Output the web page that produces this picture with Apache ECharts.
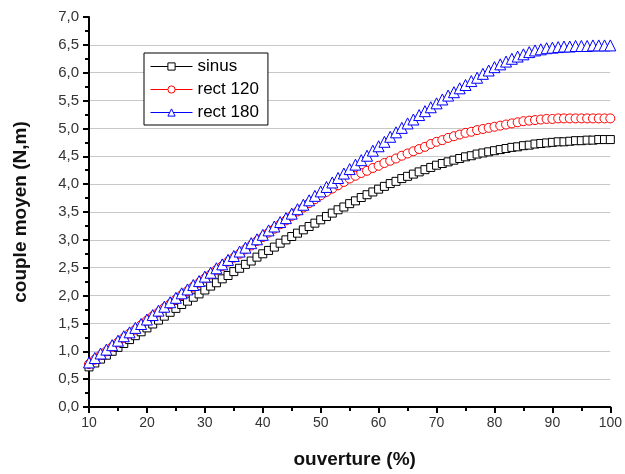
<!DOCTYPE html>
<html>
<head>
<meta charset="utf-8">
<script src="https://cdn.jsdelivr.net/npm/echarts@6/dist/echarts.min.js"></script>
<style>
  html, body { margin: 0; padding: 0; background: #fff; }
  #chart { width: 625px; height: 474px; }
</style>
</head>
<body>
<div id="chart"></div>
<script>
// Opening (%) from 10 to 100 in steps of 1
const ouverture = [
  10, 11, 12, 13, 14, 15, 16, 17, 18, 19,
  20, 21, 22, 23, 24, 25, 26, 27, 28, 29,
  30, 31, 32, 33, 34, 35, 36, 37, 38, 39,
  40, 41, 42, 43, 44, 45, 46, 47, 48, 49,
  50, 51, 52, 53, 54, 55, 56, 57, 58, 59,
  60, 61, 62, 63, 64, 65, 66, 67, 68, 69,
  70, 71, 72, 73, 74, 75, 76, 77, 78, 79,
  80, 81, 82, 83, 84, 85, 86, 87, 88, 89,
  90, 91, 92, 93, 94, 95, 96, 97, 98, 99,
  100
];

// Mean torque (N.m), sinusoidal supply
const sinus = [
  0.72, 0.79, 0.86, 0.93, 1.00, 1.07, 1.14, 1.21, 1.28, 1.35,
  1.42, 1.49, 1.56, 1.63, 1.70, 1.77, 1.84, 1.90, 1.97, 2.03,
  2.10, 2.17, 2.23, 2.30, 2.36, 2.43, 2.49, 2.56, 2.62, 2.69,
  2.75, 2.81, 2.87, 2.94, 3.00, 3.06, 3.12, 3.18, 3.24, 3.30,
  3.36, 3.42, 3.48, 3.54, 3.59, 3.65, 3.70, 3.76, 3.81, 3.86,
  3.91, 3.96, 4.01, 4.05, 4.10, 4.14, 4.18, 4.22, 4.26, 4.30,
  4.34, 4.37, 4.40, 4.43, 4.46, 4.49, 4.51, 4.54, 4.56, 4.58,
  4.60, 4.62, 4.64, 4.66, 4.67, 4.69, 4.70, 4.72, 4.73, 4.74,
  4.75, 4.76, 4.76, 4.77, 4.78, 4.78, 4.79, 4.79, 4.80, 4.80,
  4.80
];

// Mean torque (N.m), 120° rectangular supply
const rect120 = [
  0.77, 0.85, 0.93, 1.00, 1.08, 1.16, 1.24, 1.32, 1.39, 1.47,
  1.55, 1.63, 1.70, 1.78, 1.85, 1.93, 2.01, 2.08, 2.16, 2.23,
  2.31, 2.38, 2.46, 2.53, 2.61, 2.68, 2.75, 2.83, 2.90, 2.98,
  3.05, 3.13, 3.20, 3.28, 3.35, 3.43, 3.51, 3.58, 3.66, 3.73,
  3.80, 3.86, 3.92, 3.98, 4.04, 4.10, 4.15, 4.20, 4.24, 4.29,
  4.33, 4.38, 4.42, 4.46, 4.51, 4.55, 4.59, 4.63, 4.67, 4.72,
  4.76, 4.79, 4.83, 4.86, 4.89, 4.92, 4.94, 4.97, 4.99, 5.01,
  5.03, 5.05, 5.07, 5.09, 5.11, 5.13, 5.14, 5.15, 5.16, 5.17,
  5.17, 5.18, 5.18, 5.18, 5.18, 5.18, 5.18, 5.18, 5.18, 5.18,
  5.18
];

// Mean torque (N.m), 180° rectangular supply
const rect180 = [
  0.80, 0.88, 0.96, 1.03, 1.11, 1.19, 1.27, 1.34, 1.42, 1.49,
  1.57, 1.65, 1.73, 1.80, 1.88, 1.96, 2.04, 2.11, 2.19, 2.26,
  2.34, 2.41, 2.49, 2.56, 2.64, 2.71, 2.79, 2.86, 2.94, 3.01,
  3.09, 3.17, 3.24, 3.32, 3.39, 3.47, 3.55, 3.63, 3.71, 3.79,
  3.87, 3.95, 4.03, 4.11, 4.19, 4.27, 4.35, 4.43, 4.51, 4.60,
  4.68, 4.76, 4.85, 4.93, 5.01, 5.09, 5.16, 5.24, 5.31, 5.38,
  5.45, 5.52, 5.59, 5.65, 5.72, 5.78, 5.85, 5.91, 5.98, 6.04,
  6.10, 6.15, 6.20, 6.25, 6.29, 6.33, 6.37, 6.40, 6.42, 6.44,
  6.45, 6.46, 6.47, 6.47, 6.48, 6.48, 6.48, 6.49, 6.49, 6.49,
  6.49
];

const seriesNames = ['sinus', 'rect 120', 'rect 180'];
const seriesColors = ['#000000', '#ff0000', '#0000ff'];

function pairs(xs, ys) {
  return xs.map((x, i) => [x, ys[i]]);
}

const fontFamily = '"Liberation Sans", Arial, sans-serif';
const commaFmt = v => v.toFixed(1).replace('.', ',');

const chart = echarts.init(document.getElementById('chart'), null, { renderer: 'canvas' });

function markerSeries(name, ys, color, symbol, size) {
  return {
    name: name,
    type: 'line',
    data: pairs(ouverture, ys),
    symbol: symbol,
    symbolSize: size,
    showAllSymbol: true,
    animation: false,
    lineStyle: { color: color, width: 1 },
    itemStyle: { color: '#ffffff', borderColor: color, borderWidth: 1 },
    emphasis: { disabled: true }
  };
}

chart.setOption({
  backgroundColor: '#ffffff',
  animation: false,
  textStyle: { fontFamily: fontFamily },
  grid: { left: 89, right: 10, top: 17, bottom: 64, containLabel: false },
  legend: {
    data: seriesNames.map((n, i) => ({
      name: n,
      lineStyle: { color: seriesColors[i], width: 1 },
      itemStyle: { color: '#ffffff', borderColor: seriesColors[i], borderWidth: 1 }
    })),
    orient: 'vertical',
    left: 144,
    top: 53,
    padding: [5, 9, 4, 6],
    backgroundColor: '#ffffff',
    borderColor: '#000000',
    borderWidth: 1,
    itemWidth: 42,
    itemHeight: 9,
    itemGap: 6,
    textStyle: { color: '#000000', fontSize: 17, lineHeight: 15, fontFamily: fontFamily },
    selectedMode: false
  },
  xAxis: {
    type: 'value',
    min: 10,
    max: 100,
    interval: 10,
    name: 'ouverture (%)',
    nameLocation: 'middle',
    nameGap: 43,
    nameTextStyle: { color: '#111', fontSize: 19, fontWeight: 'bold', fontFamily: fontFamily, padding: [0, 0, 0, 10] },
    axisLine: { show: true, onZero: false, lineStyle: { color: '#000', width: 2 } },
    axisTick: { show: true, inside: false, length: 6, lineStyle: { color: '#000', width: 2 } },
    minorTick: { show: true, splitNumber: 2, length: 4, lineStyle: { color: '#000', width: 2 } },
    axisLabel: { color: '#333', fontSize: 14, margin: 9, fontFamily: fontFamily },
    splitLine: { show: false }
  },
  yAxis: {
    type: 'value',
    min: 0,
    max: 7,
    interval: 0.5,
    name: 'couple moyen (N,m)',
    nameLocation: 'middle',
    nameRotate: 90,
    nameGap: 59,
    nameTextStyle: { color: '#111', fontSize: 19, fontWeight: 'bold', fontFamily: fontFamily },
    axisLine: { show: true, onZero: false, lineStyle: { color: '#000', width: 2 } },
    axisTick: { show: true, inside: false, length: 6, lineStyle: { color: '#000', width: 2 } },
    minorTick: { show: true, splitNumber: 2, length: 4, lineStyle: { color: '#000', width: 2 } },
    axisLabel: { color: '#333', fontSize: 15, margin: 10, formatter: commaFmt, fontFamily: fontFamily },
    splitLine: { show: true, showMaxLine: false, showMinLine: false, lineStyle: { color: '#c8c8c8', width: 1 } }
  },
  series: [
    markerSeries(seriesNames[0], sinus, seriesColors[0], 'rect', 8),
    markerSeries(seriesNames[1], rect120, seriesColors[1], 'circle', 9),
    markerSeries(seriesNames[2], rect180, seriesColors[2], 'triangle', 11)
  ]
});
</script>
</body>
</html>
